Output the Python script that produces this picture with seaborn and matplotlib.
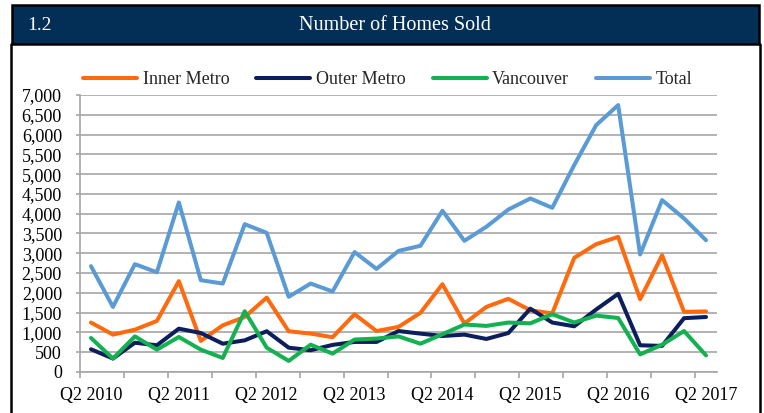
import matplotlib
matplotlib.use("Agg")
import matplotlib.pyplot as plt
import seaborn as sns
import pandas as pd
from matplotlib.patches import Rectangle
from matplotlib.lines import Line2D

quarters = [
    "Q2 2010", "Q3 2010", "Q4 2010", "Q1 2011",
    "Q2 2011", "Q3 2011", "Q4 2011", "Q1 2012",
    "Q2 2012", "Q3 2012", "Q4 2012", "Q1 2013",
    "Q2 2013", "Q3 2013", "Q4 2013", "Q1 2014",
    "Q2 2014", "Q3 2014", "Q4 2014", "Q1 2015",
    "Q2 2015", "Q3 2015", "Q4 2015", "Q1 2016",
    "Q2 2016", "Q3 2016", "Q4 2016", "Q1 2017",
    "Q2 2017",
]

inner_metro = [1250, 945, 1070, 1290, 2295, 785, 1180, 1390, 1880, 1030, 970, 880,
               1460, 1035, 1140, 1495, 2220, 1225, 1645, 1850, 1560, 1480, 2885, 3230,
               3415, 1840, 2950, 1520, 1530]
outer_metro = [575, 340, 740, 675, 1095, 985, 715, 800, 1030, 615, 550, 685,
               760, 760, 1035, 970, 910, 945, 835, 985, 1600, 1250, 1155, 1580,
               1975, 675, 660, 1360, 1390]
vancouver = [860, 340, 900, 565, 885, 565, 355, 1535, 615, 280, 690, 465,
             820, 845, 900, 715, 955, 1200, 1165, 1250, 1230, 1460, 1250, 1425,
             1365, 445, 690, 1035, 420]
total = [2675, 1645, 2725, 2520, 4285, 2320, 2235, 3735, 3515, 1900, 2235, 2035,
         3030, 2605, 3060, 3190, 4075, 3315, 3670, 4105, 4385, 4150, 5230, 6240,
         6745, 2970, 4345, 3880, 3330]

series_names = ["Inner Metro", "Outer Metro", "Vancouver", "Total"]
series_values = [inner_metro, outer_metro, vancouver, total]
colors = ["#ff6a0e", "#0c1f5c", "#13b150", "#5b9bd5"]

y_ticks = [0, 500, 1000, 1500, 2000, 2500, 3000, 3500, 4000, 4500, 5000, 5500, 6000, 6500, 7000]
label_quarters = ["Q2 2010", "Q2 2011", "Q2 2012", "Q2 2013", "Q2 2014", "Q2 2015", "Q2 2016", "Q2 2017"]

rows = []
for name, vals in zip(series_names, series_values):
    for i, v in enumerate(vals):
        rows.append({"idx": i, "quarter": quarters[i], "series": name, "value": v})
df = pd.DataFrame(rows)

sns.set_theme(style="white")
plt.rcParams["font.family"] = ["Liberation Serif", "DejaVu Serif"]

W, H = 764, 413
fig = plt.figure(figsize=(W / 100, H / 100), dpi=100)
fig.patch.set_facecolor("white")

def fx(px):
    return px / W

def fy(py):
    return 1 - py / H

# Title bar
fig.patches.append(Rectangle((fx(12), fy(44)), fx(759) - fx(12), fy(5) - fy(44),
                             transform=fig.transFigure, facecolor="#032f57",
                             edgecolor="black", linewidth=1.8, zorder=0))
fig.lines.append(Line2D([fx(11), fx(11)], [fy(44), 0], transform=fig.transFigure,
                        color="black", linewidth=1.8))
fig.lines.append(Line2D([fx(760), fx(760)], [fy(44), 0], transform=fig.transFigure,
                        color="black", linewidth=1.8))
fig.text(fx(27), fy(25), "1.2", color="white", fontsize=14, ha="left", va="center")
fig.text(fx(395), fy(25), "Number of Homes Sold", color="white", fontsize=14.5,
         ha="center", va="center")

ax = fig.add_axes([fx(80), fy(372), fx(717) - fx(80), fy(95) - fy(372)])
sns.lineplot(data=df, x="idx", y="value", hue="series", hue_order=series_names,
             palette=colors, linewidth=2.9, ax=ax, legend=False, sort=False)

ax.set_xlim(-0.5, len(quarters) - 0.5)
ax.set_ylim(0, 7000)
ax.set_yticks(y_ticks)
ax.set_yticklabels([f"{v:,}" for v in y_ticks])
label_pos = [quarters.index(q) for q in label_quarters]
ax.set_xticks(label_pos)
ax.set_xticklabels(label_quarters)
ax.set_xticks([i - 0.5 for i in range(0, len(quarters), 2)], minor=True)
ax.tick_params(axis="x", which="major", length=0, pad=11, labelsize=13, colors="black")
ax.tick_params(axis="x", which="minor", length=4, width=1.2, color="#a6a6a6", bottom=True)
ax.tick_params(axis="y", which="major", length=3, width=1.2, color="#a6a6a6", pad=10,
               labelsize=13, left=True)
for lbl in ax.get_yticklabels() + ax.get_xticklabels():
    lbl.set_color("black")
ax.grid(axis="y", color="#a6a6a6", linewidth=1.2)
ax.grid(axis="x", visible=False)
ax.set_axisbelow(True)
for s in ["top", "right"]:
    ax.spines[s].set_visible(False)
for s in ["left", "bottom"]:
    ax.spines[s].set_color("#a6a6a6")
    ax.spines[s].set_linewidth(1.2)
ax.set_xlabel("")
ax.set_ylabel("")

handles = [Line2D([0], [0], color=c, linewidth=2.9) for c in colors]
fig.legend(handles, series_names, loc="center left",
           bbox_to_anchor=(fx(83), fy(80)), bbox_transform=fig.transFigure,
           ncol=4, frameon=False, fontsize=13, handlelength=3.0,
           handletextpad=0.3, columnspacing=1.5, borderpad=0, borderaxespad=0)

fig.savefig("out.png", dpi=100, facecolor="white")
